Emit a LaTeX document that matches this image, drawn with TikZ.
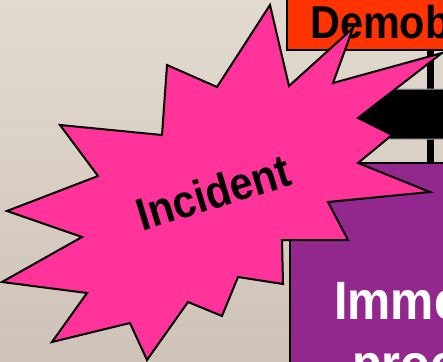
\documentclass[tikz,border=0pt]{standalone}
\usepackage{fontspec}
\setmainfont{Liberation Sans}
\newfontfamily\narrowbold[FakeStretch=0.9]{Liberation Sans Bold}
\begin{document}
\begin{tikzpicture}[x=1pt,y=-1pt,
  boxline/.style={draw=black,line width=2pt},
  starstyle/.style={draw=black,line width=2pt,fill=starpink,line join=miter},
  lbl/.style={inner sep=0pt,anchor=base west}]
\definecolor{bgtop}{RGB}{226,218,208}
\definecolor{bgbot}{RGB}{207,195,185}
\definecolor{demoborange}{RGB}{255,51,0}
\definecolor{immpurple}{RGB}{146,40,142}
\definecolor{starpink}{RGB}{255,51,153}
\useasboundingbox (0,0) rectangle (443,361);
\clip (0,0) rectangle (443,361);
\shade[top color=bgtop,bottom color=bgbot] (0,0) rectangle (443,361);
% orange box
\draw[boxline,fill=demoborange] (287,-5) rectangle (450,50);
\node[lbl,font=\narrowbold\fontsize{46}{52}\selectfont] (demob) at (310,38) {Demob};
% vertical connector
\fill[black] (427,50) rectangle (434,165);
% black arrow band
\draw[fill=black,draw=gray!70,line width=1pt] (356,117) -- (390,89) -- (450,89) -- (450,139) -- (390,139) -- cycle;
% purple box
\draw[boxline,fill=immpurple] (290,163) rectangle (450,370);
\node[lbl,text=white,font=\narrowbold\fontsize{54}{62}\selectfont] (imme) at (334,319) {Immediate};
\node[lbl,text=white,font=\narrowbold\fontsize{54}{62}\selectfont] (proc) at (352,382) {process};
% star
\draw[starstyle] (270,5) -- (289,86) -- (353,28) -- (333,83) -- (442,53) -- (358,118)
  -- (392,135) -- (358,163) -- (430,192) -- (328,202) -- (348,240) -- (282,240)
  -- (283,284) -- (238,277) -- (222,316) -- (188,302) -- (147,360) -- (130,323)
  -- (52,342) -- (87,293) -- (2,282) -- (82,237) -- (7,211) -- (98,176)
  -- (60,125) -- (162,135) -- (167,65) -- (217,87) -- cycle;
\node[inner sep=0pt,anchor=base,rotate=17,font=\narrowbold\fontsize{46}{52}\selectfont] (incident) at (218,208) {Incident};
\end{tikzpicture}
\end{document}
